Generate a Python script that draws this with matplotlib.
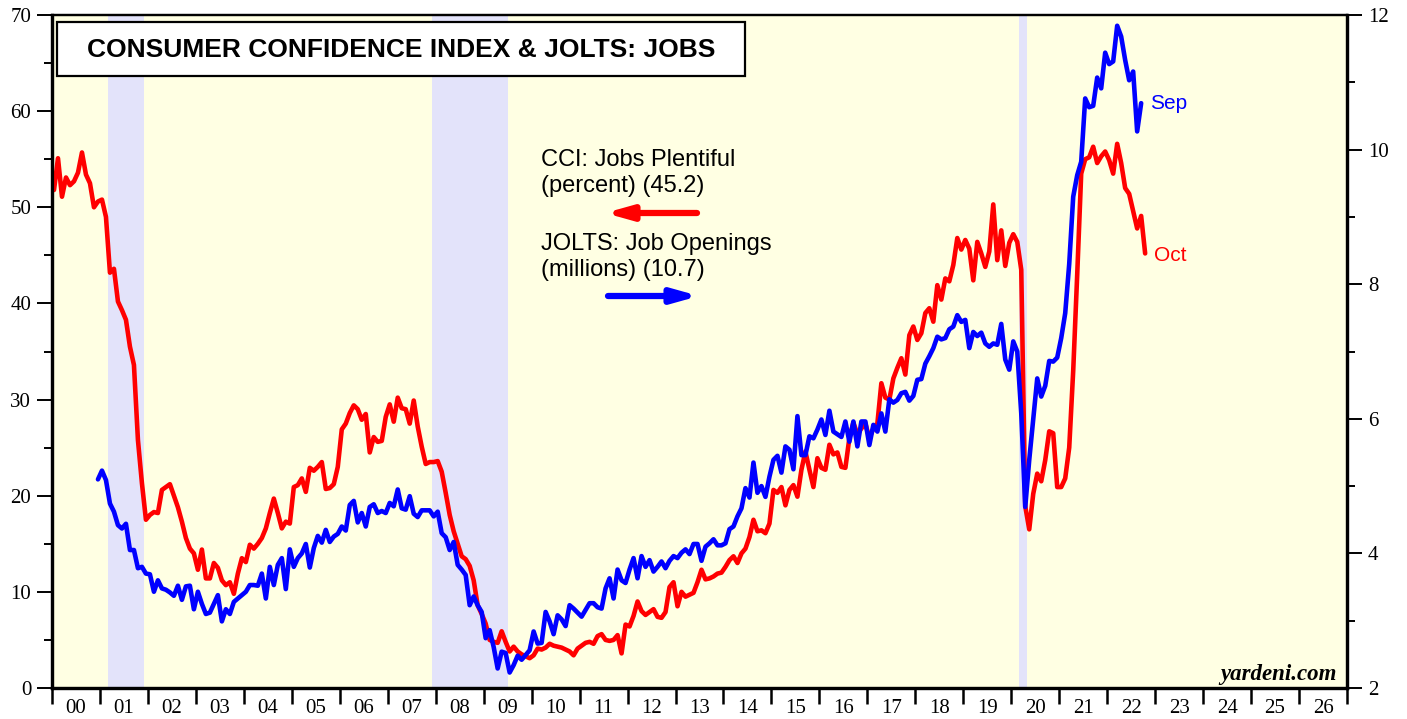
import numpy as np
import matplotlib
matplotlib.use("Agg")
import matplotlib.pyplot as plt
from matplotlib.patches import Rectangle
from matplotlib.ticker import MultipleLocator, FixedLocator, NullFormatter, FixedFormatter

# ---------------- data ----------------
# CCI: Jobs Plentiful (percent), monthly from Jan 2000 to Oct 2022
cci_start_year = 2000
cci_start_month = 1
cci_jobs_plentiful = [
    51.8, 55.1, 51.1, 53.1, 52.3, 52.7, 53.6, 55.7, 53.4, 52.5, 50.0, 50.6,  # 2000
    50.8, 49.0, 43.2, 43.6, 40.2, 39.3, 38.3, 35.5, 33.6, 25.8, 21.3, 17.5,  # 2001
    18.0, 18.3, 18.2, 20.6, 20.9, 21.2, 20.0, 18.8, 17.3, 15.6, 14.5, 14.0,  # 2002
    12.3, 14.4, 11.4, 11.4, 13.0, 12.5, 11.2, 10.7, 11.0, 9.8, 11.9, 13.5,   # 2003
    13.1, 14.9, 14.5, 15.0, 15.6, 16.6, 18.2, 19.7, 18.2, 16.6, 17.3, 17.1,  # 2004
    20.9, 21.1, 21.8, 20.4, 22.9, 22.6, 23.0, 23.5, 20.7, 20.8, 21.2, 23.0,  # 2005
    26.9, 27.5, 28.6, 29.4, 29.0, 27.9, 28.5, 24.5, 26.1, 25.6, 25.7, 28.2,  # 2006
    29.5, 27.7, 30.2, 29.1, 29.0, 27.5, 29.9, 27.2, 25.1, 23.3, 23.5, 23.5,  # 2007
    23.6, 22.5, 20.3, 18.0, 16.3, 15.0, 13.7, 13.4, 12.7, 11.2, 8.6, 7.7,    # 2008
    6.7, 5.0, 4.8, 4.7, 5.9, 4.8, 3.8, 4.3, 3.8, 3.5, 3.3, 3.1,              # 2009
    3.4, 4.1, 4.0, 4.2, 4.6, 4.4, 4.3, 4.2, 4.0, 3.8, 3.4, 4.1,              # 2010
    4.4, 4.7, 4.8, 4.6, 5.4, 5.6, 5.0, 4.9, 5.0, 5.5, 3.6, 6.6,              # 2011
    6.4, 7.5, 9.0, 8.0, 7.6, 7.9, 8.2, 7.4, 7.3, 7.9, 10.5, 11.0,            # 2012
    8.5, 10.0, 9.5, 9.7, 9.9, 11.0, 12.3, 11.3, 11.4, 11.6, 11.9, 12.0,      # 2013
    12.6, 13.3, 13.7, 13.0, 14.0, 14.5, 15.7, 17.5, 16.3, 16.4, 16.1, 17.1,  # 2014
    20.6, 20.3, 20.9, 19.0, 20.6, 21.1, 19.9, 22.7, 24.6, 22.7, 20.9, 23.9,  # 2015
    22.9, 22.7, 25.3, 24.3, 24.5, 23.0, 22.9, 26.0, 27.6, 26.4, 27.0, 27.5,  # 2016
    26.0, 27.0, 27.5, 31.7, 30.2, 30.0, 32.2, 33.3, 34.3, 32.6, 36.7, 37.6,  # 2017
    36.2, 36.9, 39.0, 39.5, 38.1, 41.9, 40.4, 42.6, 42.3, 44.0, 46.8, 45.6,  # 2018
    46.6, 45.7, 42.4, 46.4, 45.2, 43.8, 45.4, 50.3, 44.5, 47.6, 43.9, 46.3,  # 2019
    47.2, 46.4, 43.5, 18.9, 16.5, 20.2, 22.3, 21.5, 23.7, 26.7, 26.5, 20.9,  # 2020
    20.9, 21.8, 25.0, 33.0, 43.0, 53.5, 55.0, 55.2, 56.3, 54.6, 55.3, 55.8,  # 2021
    54.9, 53.5, 56.6, 54.6, 52.0, 51.4, 49.6, 47.8, 49.1, 45.2,              # 2022
]

# JOLTS: Job Openings (millions), monthly from Dec 2000 to Sep 2022
jolts_start_year = 2000
jolts_start_month = 12
jolts_job_openings = [
    5.10,                                                                     # 2000
    5.23, 5.09, 4.74, 4.62, 4.42, 4.37, 4.44, 4.05, 4.05, 3.78, 3.80, 3.70,  # 2001
    3.69, 3.43, 3.60, 3.48, 3.46, 3.42, 3.37, 3.52, 3.31, 3.51, 3.52, 3.17,  # 2002
    3.43, 3.25, 3.10, 3.12, 3.25, 3.38, 2.99, 3.17, 3.10, 3.28, 3.33, 3.38,  # 2003
    3.43, 3.53, 3.53, 3.52, 3.70, 3.33, 3.80, 3.53, 3.83, 3.93, 3.47, 4.06,  # 2004
    3.80, 3.93, 4.00, 4.14, 3.79, 4.08, 4.26, 4.16, 4.35, 4.17, 4.25, 4.29,  # 2005
    4.40, 4.34, 4.72, 4.78, 4.46, 4.60, 4.40, 4.69, 4.73, 4.60, 4.63, 4.60,  # 2006
    4.75, 4.70, 4.95, 4.67, 4.65, 4.85, 4.59, 4.54, 4.64, 4.64, 4.64, 4.55,  # 2007
    4.62, 4.30, 4.24, 4.05, 4.17, 3.83, 3.76, 3.68, 3.23, 3.36, 3.23, 3.13,  # 2008
    2.74, 2.86, 2.61, 2.29, 2.54, 2.52, 2.23, 2.34, 2.48, 2.42, 2.49, 2.56,  # 2009
    2.84, 2.66, 2.67, 3.13, 2.99, 2.80, 3.08, 3.02, 2.92, 3.23, 3.18, 3.12,  # 2010
    3.06, 3.16, 3.26, 3.26, 3.20, 3.18, 3.48, 3.63, 3.33, 3.76, 3.60, 3.56,  # 2011
    3.76, 3.93, 3.63, 3.96, 3.80, 3.90, 3.73, 3.80, 3.88, 3.78, 3.89, 3.96,  # 2012
    3.93, 4.01, 4.06, 3.99, 4.14, 4.14, 3.89, 4.10, 4.15, 4.21, 4.12, 4.12,  # 2013
    4.15, 4.36, 4.40, 4.55, 4.67, 4.97, 4.83, 5.35, 4.90, 5.00, 4.84, 5.14,  # 2014
    5.39, 5.45, 5.20, 5.59, 5.54, 5.25, 6.04, 5.46, 5.46, 5.74, 5.71, 5.84,  # 2015
    5.99, 5.76, 6.12, 5.81, 5.77, 5.73, 5.96, 5.66, 5.96, 5.59, 5.96, 5.96,  # 2016
    5.61, 5.91, 5.81, 6.08, 5.81, 6.29, 6.24, 6.28, 6.38, 6.40, 6.27, 6.34,  # 2017
    6.58, 6.59, 6.82, 6.93, 7.05, 7.22, 7.18, 7.20, 7.33, 7.37, 7.54, 7.44,  # 2018
    7.47, 7.05, 7.29, 7.23, 7.28, 7.12, 7.07, 7.12, 7.10, 7.41, 6.88, 6.73,  # 2019
    7.15, 7.00, 6.08, 4.69, 5.39, 6.00, 6.60, 6.33, 6.49, 6.86, 6.85, 6.91,  # 2020
    7.20, 7.57, 8.30, 9.30, 9.62, 9.82, 10.76, 10.63, 10.65, 11.07, 10.91, 11.44,  # 2021
    11.27, 11.31, 11.84, 11.68, 11.33, 11.03, 11.16, 10.27, 10.69,           # 2022
]

# recessions (start, end) in decimal years
recession_starts = [2001.167, 2007.917, 2020.167]
recession_ends = [2001.917, 2009.5, 2020.333]

year_labels = ["%02d" % (y % 100) for y in range(2000, 2027)]

title_text = "CONSUMER CONFIDENCE INDEX & JOLTS: JOBS"
cci_label = "CCI: Jobs Plentiful\n(percent) (45.2)"
jolts_label = "JOLTS: Job Openings\n(millions) (10.7)"

# ---------------- plotting ----------------
def month_axis(start_year, start_month, n):
    idx = np.arange(n)
    return start_year + (start_month - 1 + idx + 0.5) / 12.0

x_cci = month_axis(cci_start_year, cci_start_month, len(cci_jobs_plentiful))
x_jolts = month_axis(jolts_start_year, jolts_start_month, len(jolts_job_openings))

W, H = 1407, 719
fig = plt.figure(figsize=(W / 100, H / 100), dpi=100)
fig.patch.set_facecolor("white")
L, R, T, B = 52, 1347, 15, 688
ax = fig.add_axes([L / W, (H - B) / H, (R - L) / W, (B - T) / H])
ax.set_facecolor("#FFFFE3")

for s, e in zip(recession_starts, recession_ends):
    ax.axvspan(s, e, color="#E3E3FA", lw=0, zorder=0.5)

ax.plot(x_cci, cci_jobs_plentiful, color="#FF0000", lw=3.3, zorder=3,
        solid_joinstyle="round", solid_capstyle="round")

ax.set_xlim(2000, 2027)
ax.set_ylim(0, 70)

ax2 = ax.twinx()
ax2.plot(x_jolts, jolts_job_openings, color="#0000FF", lw=3.3, zorder=3,
         solid_joinstyle="round", solid_capstyle="round")
ax2.set_ylim(2, 12)
ax2.set_xlim(2000, 2027)

serif = "Liberation Serif"
sans = "Liberation Sans"

# x ticks
ax.xaxis.set_major_locator(FixedLocator(np.arange(2000, 2028)))
ax.xaxis.set_major_formatter(NullFormatter())
ax.xaxis.set_minor_locator(FixedLocator(np.arange(2000, 2027) + 0.5))
ax.xaxis.set_minor_formatter(FixedFormatter(year_labels))
ax.tick_params(axis="x", which="major", direction="out", length=11.5, width=1.8,
               color="black")
ax.tick_params(axis="x", which="minor", length=0, pad=8)
for lab in ax.xaxis.get_minorticklabels():
    lab.set_fontfamily(serif)
    lab.set_fontsize(15)

# left y
ax.yaxis.set_major_locator(MultipleLocator(10))
ax.yaxis.set_minor_locator(MultipleLocator(5))
ax.tick_params(axis="y", which="major", direction="out", length=11, width=1.4, pad=4,
               labelsize=15)
ax.tick_params(axis="y", which="minor", direction="out", length=6, width=1.4)
for lab in ax.get_yticklabels():
    lab.set_fontfamily(serif)

# right y
ax2.yaxis.set_major_locator(MultipleLocator(2))
ax2.yaxis.set_minor_locator(MultipleLocator(1))
ax2.tick_params(axis="y", which="major", direction="out", length=11, width=1.4, pad=4,
                labelsize=15)
ax2.tick_params(axis="y", which="minor", direction="out", length=6, width=1.4)
for lab in ax2.get_yticklabels():
    lab.set_fontfamily(serif)

for a in (ax, ax2):
    for side in ("left", "right", "bottom"):
        a.spines[side].set_linewidth(2.3)
        a.spines[side].set_color("black")
    a.spines["top"].set_linewidth(1.6)
    a.spines["top"].set_color("black")

# title box
def px_to_axes(xp, yp):
    return (xp - L) / (R - L), (B - yp) / (B - T)

x0, y0 = px_to_axes(57, 76)
x1, y1 = px_to_axes(745, 22)
ax2.add_patch(Rectangle((x0, y0), x1 - x0, y1 - y0, transform=ax2.transAxes,
                        facecolor="white", edgecolor="black", lw=1.6, zorder=5,
                        clip_on=False))
tx, ty = px_to_axes(401, 50)
ax2.text(tx, ty, title_text, transform=ax2.transAxes, ha="center", va="center",
         fontsize=19, fontweight="bold", family=sans, zorder=6)

# series labels
lx, ly = px_to_axes(541, 149)
ax2.text(lx, ly, cci_label, transform=ax2.transAxes, ha="left", va="top",
         fontsize=17, family=sans, linespacing=1.22, zorder=6)
lx, ly = px_to_axes(541, 233)
ax2.text(lx, ly, jolts_label, transform=ax2.transAxes, ha="left", va="top",
         fontsize=17, family=sans, linespacing=1.22, zorder=6)

# arrows
a0 = px_to_axes(697, 213)
a1 = px_to_axes(605, 213)
ax2.annotate("", xy=a1, xytext=a0, xycoords="axes fraction", textcoords="axes fraction",
             arrowprops=dict(arrowstyle="-|>,head_length=1.5,head_width=0.42",
                             color="#FF0000", lw=4.5, shrinkA=0, shrinkB=0), zorder=6)
b0 = px_to_axes(608, 296)
b1 = px_to_axes(699, 296)
ax2.annotate("", xy=b1, xytext=b0, xycoords="axes fraction", textcoords="axes fraction",
             arrowprops=dict(arrowstyle="-|>,head_length=1.5,head_width=0.42",
                             color="#0000FF", lw=4.5, shrinkA=0, shrinkB=0), zorder=6)

# end labels
sx, sy = px_to_axes(1150, 103)
ax2.text(sx, sy, "Sep", transform=ax2.transAxes, ha="left", va="center",
         fontsize=15, family=sans, color="#0000FF", zorder=6)
ox, oy = px_to_axes(1154, 255)
ax2.text(ox, oy, "Oct", transform=ax2.transAxes, ha="left", va="center",
         fontsize=15, family=sans, color="#FF0000", zorder=6)

# source
yx, yy = px_to_axes(1337, 680)
ax2.text(yx, yy, "yardeni.com", transform=ax2.transAxes, ha="right", va="baseline",
         fontsize=16.5, family=serif, fontweight="bold", fontstyle="italic", zorder=6)

fig.savefig("out.png", dpi=100, facecolor="white")
